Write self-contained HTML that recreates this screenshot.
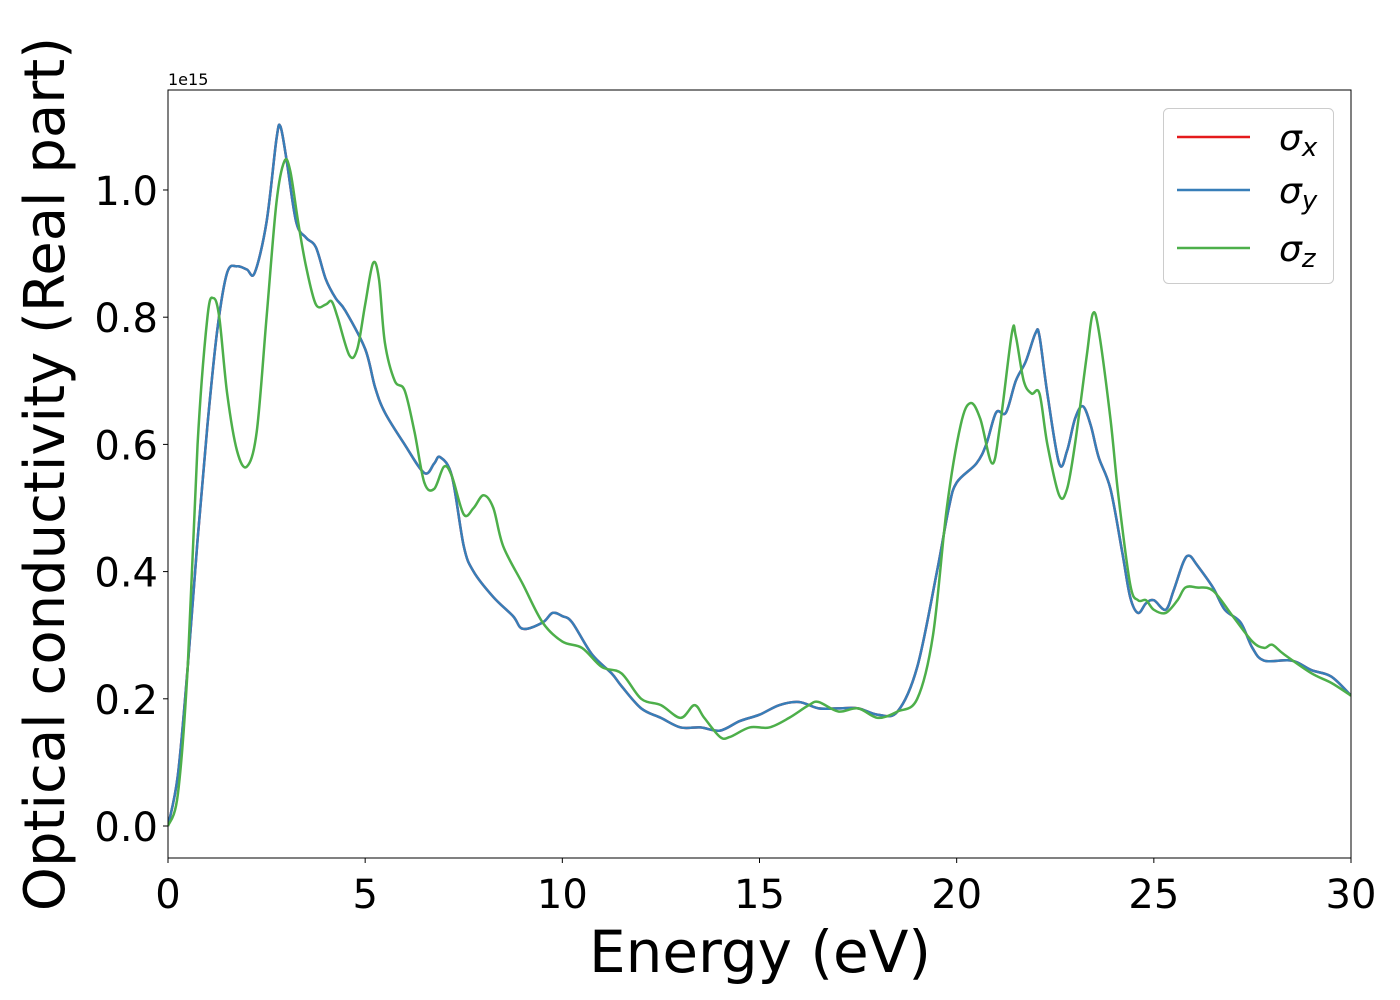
<!DOCTYPE html>
<html><head><meta charset="utf-8"><style>
html,body{margin:0;padding:0;background:#fff}
svg{display:block;font-family:"DejaVu Sans","Liberation Sans",sans-serif}
</style></head><body>
<svg id="chart" width="1400" height="1000" xmlns="http://www.w3.org/2000/svg">
<rect x="0" y="0" width="1400" height="1000" fill="#fff"/>
<g id="plot"></g>
<g id="axes"></g>
<text x="168" y="85" font-size="16">1e15</text>
<text x="760" y="972" font-size="58" text-anchor="middle">Energy (eV)</text>
<text transform="translate(64,474) rotate(-90)" font-size="56" text-anchor="middle">Optical conductivity (Real part)</text>
<g>
<rect x="1163.5" y="108.5" width="170" height="175" rx="5" fill="#fff" fill-opacity="0.8" stroke="#ccc"/>
<line x1="1177" y1="137" x2="1250" y2="137" stroke="#e41a1c" stroke-width="2.5"/>
<text x="1279" y="150" font-size="36" font-style="italic">σ<tspan font-size="26" dy="6">x</tspan></text>
<line x1="1177" y1="190" x2="1250" y2="190" stroke="#377eb8" stroke-width="2.5"/>
<text x="1279" y="203" font-size="36" font-style="italic">σ<tspan font-size="26" dy="6">y</tspan></text>
<line x1="1177" y1="248" x2="1250" y2="248" stroke="#4daf4a" stroke-width="2.5"/>
<text x="1279" y="261" font-size="36" font-style="italic">σ<tspan font-size="26" dy="6">z</tspan></text>
</g>
</svg>
<script>
const xTicks=[0,5,10,15,20,25,30];
const yTicks=[0,0.2,0.4,0.6,0.8,1.0];
const yTickLabels=["0.0","0.2","0.4","0.6","0.8","1.0"];
const energyXY=[0,0.25,0.5,0.75,1.0,1.25,1.5,1.75,2.0,2.2,2.5,2.75,2.85,3.0,3.25,3.5,3.75,4.0,4.25,4.5,5.0,5.25,5.5,6.0,6.5,6.75,6.9,7.2,7.5,7.75,8.25,8.75,9.0,9.5,9.75,10.0,10.25,10.75,11.25,11.5,12,12.5,13,13.5,14,14.5,15,15.5,16,16.5,17,17.5,18,18.5,19.0,19.5,19.8,20.0,20.5,20.75,21.0,21.25,21.5,21.75,22.0,22.1,22.3,22.6,22.8,23.0,23.2,23.4,23.6,23.9,24.2,24.4,24.6,24.8,25.0,25.3,25.5,25.75,25.9,26.1,26.5,26.8,27.2,27.5,27.8,28.5,29,29.5,30];
const sigmaXY=[0,0.08,0.25,0.45,0.63,0.78,0.87,0.88,0.875,0.87,0.95,1.08,1.10,1.05,0.95,0.925,0.91,0.86,0.83,0.81,0.75,0.69,0.65,0.60,0.555,0.57,0.58,0.55,0.44,0.40,0.36,0.33,0.31,0.32,0.335,0.33,0.32,0.27,0.24,0.22,0.185,0.17,0.155,0.155,0.15,0.165,0.175,0.19,0.195,0.185,0.185,0.185,0.175,0.18,0.25,0.40,0.50,0.54,0.57,0.60,0.65,0.65,0.70,0.73,0.775,0.77,0.68,0.57,0.59,0.64,0.66,0.63,0.58,0.53,0.43,0.36,0.335,0.35,0.355,0.34,0.37,0.415,0.425,0.41,0.375,0.34,0.32,0.28,0.26,0.26,0.245,0.235,0.205];
const energyZ=[0,0.25,0.5,0.75,1.0,1.15,1.3,1.5,1.75,2.0,2.25,2.5,2.75,2.95,3.1,3.3,3.5,3.75,4.0,4.15,4.3,4.6,4.8,5.0,5.2,5.35,5.5,5.75,6.0,6.25,6.5,6.75,7.0,7.2,7.5,7.75,8.0,8.25,8.5,9.0,9.5,10,10.5,11,11.5,12,12.5,13,13.35,13.6,14,14.25,14.75,15.25,15.75,16.25,16.5,17,17.5,18,18.5,19.0,19.4,19.75,20.1,20.35,20.6,20.9,21.1,21.4,21.5,21.7,21.9,22.1,22.3,22.6,22.8,23.0,23.3,23.45,23.6,23.9,24.1,24.4,24.6,24.8,25.0,25.3,25.6,25.8,26.1,26.5,27,27.5,27.8,28.0,28.3,29,29.5,30];
const sigmaZ=[0,0.05,0.25,0.6,0.80,0.83,0.80,0.68,0.59,0.565,0.62,0.80,0.98,1.045,1.03,0.95,0.88,0.82,0.82,0.825,0.80,0.74,0.75,0.82,0.885,0.86,0.76,0.70,0.685,0.62,0.54,0.53,0.565,0.55,0.49,0.50,0.52,0.50,0.44,0.38,0.32,0.29,0.28,0.25,0.24,0.20,0.19,0.17,0.19,0.17,0.14,0.14,0.155,0.155,0.17,0.19,0.195,0.18,0.185,0.17,0.18,0.20,0.30,0.50,0.63,0.665,0.64,0.57,0.63,0.775,0.77,0.70,0.68,0.68,0.60,0.52,0.53,0.60,0.74,0.805,0.78,0.64,0.52,0.38,0.355,0.355,0.34,0.335,0.355,0.375,0.375,0.37,0.33,0.29,0.28,0.285,0.27,0.24,0.225,0.205];

const X0=168,X1=1351,Y0=90,Y1=858;
const xMin=0,xMax=30,yMin=-0.0503,yMax=1.1572;
const sx=v=>X0+(v-xMin)/(xMax-xMin)*(X1-X0);
const sy=v=>Y1-(v-yMin)/(yMax-yMin)*(Y1-Y0);
const NS="http://www.w3.org/2000/svg";
function mk(tag,attrs,parent){const e=document.createElementNS(NS,tag);for(const k in attrs)e.setAttribute(k,attrs[k]);parent.appendChild(e);return e;}
function pathD(xs,ys){
  const p=xs.map((x,i)=>[sx(x),sy(ys[i])]);
  let d="M"+p[0][0].toFixed(2)+","+p[0][1].toFixed(2);
  for(let i=0;i<p.length-1;i++){
    const p0=p[Math.max(0,i-1)],p1=p[i],p2=p[i+1],p3=p[Math.min(p.length-1,i+2)];
    const c1=[p1[0]+(p2[0]-p0[0])/6,p1[1]+(p2[1]-p0[1])/6];
    const c2=[p2[0]-(p3[0]-p1[0])/6,p2[1]-(p3[1]-p1[1])/6];
    d+=" C"+c1.map(v=>v.toFixed(2))+" "+c2.map(v=>v.toFixed(2))+" "+p2.map(v=>v.toFixed(2));
  }
  return d;
}
const plot=document.getElementById('plot');
mk('clipPath',{id:'clip'},plot).appendChild(Object.assign(document.createElementNS(NS,'rect'),{}));
const cr=plot.querySelector('clipPath');cr.firstChild.setAttribute('x',X0);cr.firstChild.setAttribute('y',Y0);cr.firstChild.setAttribute('width',X1-X0);cr.firstChild.setAttribute('height',Y1-Y0);
const series=[[energyXY,sigmaXY,'#e41a1c','sigma-x-line'],[energyXY,sigmaXY,'#377eb8','sigma-y-line'],[energyZ,sigmaZ,'#4daf4a','sigma-z-line']];
series.forEach(s=>{
  const el=mk('path',{d:pathD(s[0],s[1]),fill:'none',stroke:s[2],'stroke-width':2.5,'clip-path':'url(#clip)'},plot);
  
  
});
const axes=document.getElementById('axes');
const fr=mk('rect',{x:X0,y:Y0,width:X1-X0,height:Y1-Y0,fill:'none',stroke:'#000','stroke-width':1},axes);


xTicks.forEach(t=>{
  const x=sx(t);
  const l=mk('line',{x1:x,y1:Y1,x2:x,y2:Y1+5,stroke:'#000','stroke-width':1},axes);
  
  
  const tx=mk('text',{x:x,y:Y1+50,'font-size':40,'text-anchor':'middle'},axes);
  tx.textContent=String(t);
  
  
});
yTicks.forEach((t,i)=>{
  const y=sy(t);
  const l=mk('line',{x1:X0-5,y1:y,x2:X0,y2:y,stroke:'#000','stroke-width':1},axes);
  
  
  const tx=mk('text',{x:X0-10,y:y+15,'font-size':40,'text-anchor':'end'},axes);
  tx.textContent=yTickLabels[i];
  
  
});
</script>
</body></html>
